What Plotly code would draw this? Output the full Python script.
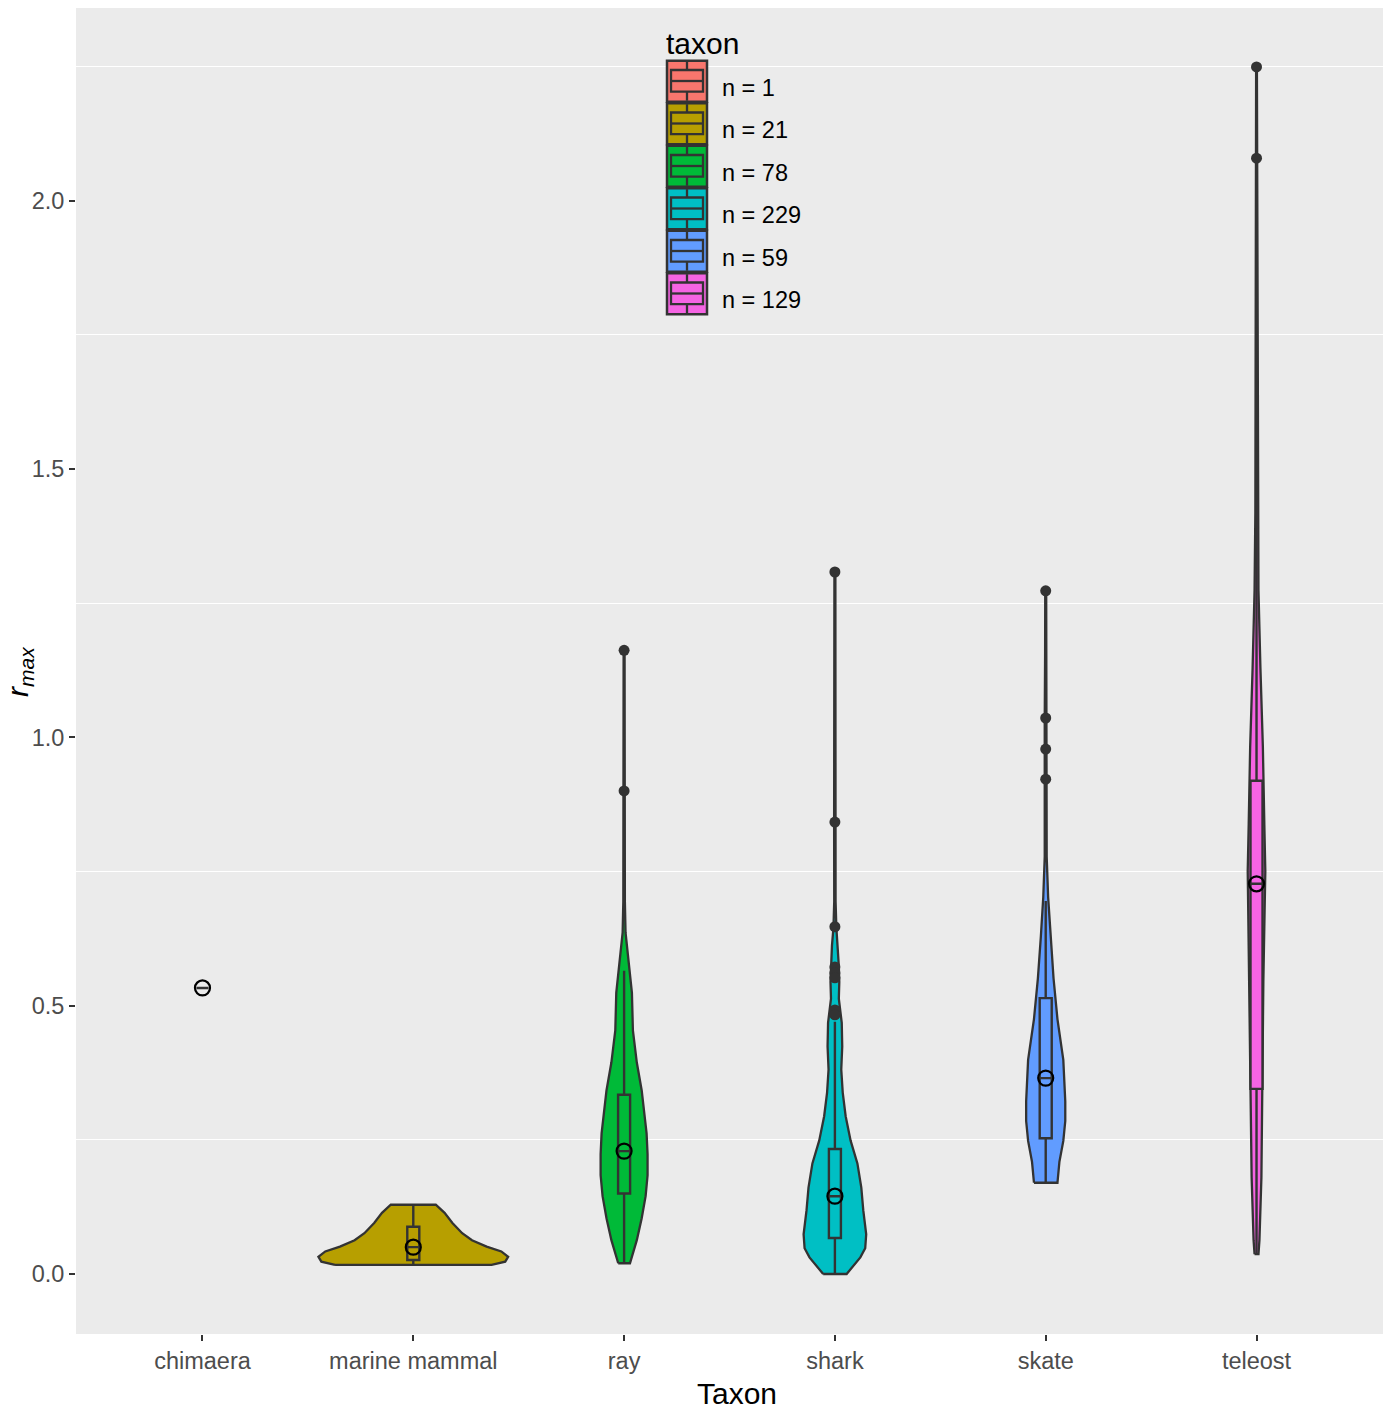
import plotly.graph_objects as go

# ---------------- data ----------------
categories = ["chimaera", "marine mammal", "ray", "shark", "skate", "teleost"]
counts = [1, 21, 78, 229, 59, 129]
colors = ["#F8766D", "#B79F00", "#00BA38", "#00BFC4", "#619CFF", "#F564E3"]

# violin density profiles (r_max level, relative density)
chimaera_y = [0.533]
chimaera_dens = [0.0]
mm_y = [0.017, 0.023, 0.032, 0.042, 0.051, 0.063, 0.076, 0.095, 0.114, 0.129]
mm_dens = [80, 94, 97, 90, 75, 60, 50, 40, 32, 23]
ray_y = [0.020, 0.063, 0.104, 0.145, 0.184, 0.223, 0.262, 0.342, 0.394, 0.454,
         0.524, 0.580, 0.612, 0.636, 0.694, 0.794, 0.900, 1.034, 1.162]
ray_dens = [6, 13, 18, 22, 24, 24, 23, 18, 13, 9, 8, 5, 3, 1.5, 0.8, 0.6, 0.8, 0.4, 0.5]
shark_y = [0.000, 0.031, 0.048, 0.074, 0.119, 0.161, 0.206, 0.249, 0.294, 0.338, 0.381,
           0.424, 0.468, 0.513, 0.544, 0.574, 0.612, 0.645, 0.694, 0.840, 1.064, 1.307]
shark_dens = [12, 26, 31, 32, 29, 27, 23, 16, 11, 8, 6.5, 7.5, 7, 4, 4.5, 4, 3, 1.5, 0.7, 0.8, 0.4, 0.5]
skate_y = [0.170, 0.209, 0.248, 0.285, 0.322, 0.399, 0.475, 0.551, 0.628, 0.702, 0.778,
           0.920, 0.977, 1.035, 1.160, 1.272]
skate_dens = [12, 14, 18, 20, 20, 18, 12, 8, 5, 2.5, 1, 1.2, 1.2, 1, 0.6, 0.5]
teleost_y = [0.037, 0.063, 0.180, 0.325, 0.545, 0.751, 0.837, 0.982, 1.129, 1.274,
             1.419, 1.711, 2.003, 2.076, 2.245]
teleost_dens = [2, 3, 5, 6, 7, 9, 8, 6.5, 4, 2, 1.2, 0.8, 0.6, 0.6, 0.4]

violin_y = [chimaera_y, mm_y, ray_y, shark_y, skate_y, teleost_y]
violin_dens = [chimaera_dens, mm_dens, ray_dens, shark_dens, skate_dens, teleost_dens]

# box plot statistics
q1 = [0.533, 0.026, 0.150, 0.067, 0.253, 0.345]
median = [0.533, 0.050, 0.229, 0.145, 0.365, 0.727]
q3 = [0.533, 0.088, 0.334, 0.233, 0.514, 0.919]
lower_whisker = [0.533, 0.017, 0.020, 0.000, 0.170, 0.037]
upper_whisker = [0.533, 0.129, 0.565, 0.470, 0.695, 1.720]

# outliers
outlier_taxon = ["ray", "ray",
                 "shark", "shark", "shark", "shark", "shark", "shark", "shark", "shark",
                 "skate", "skate", "skate", "skate",
                 "teleost", "teleost"]
outlier_value = [1.162, 0.900,
                 1.308, 0.842, 0.647, 0.572, 0.561, 0.552, 0.492, 0.483,
                 1.273, 1.036, 0.978, 0.922,
                 2.249, 2.079]

# ---------------- styling ----------------
FONT = "Liberation Sans, Arial, Helvetica, sans-serif"
DARK = "#333333"
PANEL = "#EBEBEB"
VIOLIN_MAX_HALF = 0.45
dens_max = max(max(d) for d in violin_dens)
pos = list(range(1, len(categories) + 1))
X_RANGE = [0.4, 6.6]
Y_RANGE = [-0.1118, 2.3589]

fig = go.Figure()

# violins (main axes)
for i, (ys, ds) in enumerate(zip(violin_y, violin_dens)):
    if len(ys) < 2:
        continue
    half = [d / dens_max * VIOLIN_MAX_HALF for d in ds]
    xs = [pos[i] - h for h in half] + [pos[i] + h for h in reversed(half)]
    yy = list(ys) + list(reversed(ys))
    xs.append(xs[0])
    yy.append(yy[0])
    fig.add_trace(go.Scatter(
        x=xs, y=yy, mode="lines", fill="toself", fillcolor=colors[i],
        line=dict(color=DARK, width=2.3), showlegend=False, hoverinfo="skip"))

# boxes (overlay axes so they sit on top of the violins)
for i in range(len(categories)):
    fig.add_trace(go.Box(
        x=[pos[i]], q1=[q1[i]], median=[median[i]], q3=[q3[i]],
        lowerfence=[lower_whisker[i]], upperfence=[upper_whisker[i]],
        width=0.057, whiskerwidth=0, fillcolor=colors[i],
        line=dict(color=DARK, width=2.4), boxpoints=False, showlegend=False,
        xaxis="x2", yaxis="y2"))

# outliers
cat_pos = {c: p for c, p in zip(categories, pos)}
fig.add_trace(go.Scatter(
    x=[cat_pos[t] for t in outlier_taxon], y=outlier_value, mode="markers",
    marker=dict(color=DARK, size=11), showlegend=False, xaxis="x2", yaxis="y2"))

# median circles
fig.add_trace(go.Scatter(
    x=pos, y=median, mode="markers",
    marker=dict(symbol="circle-open", color="black", size=15, line=dict(width=2.2)),
    showlegend=False, xaxis="x2", yaxis="y2"))

# ---------------- layout ----------------
W, H = 1389, 1412
L, R, T, B = 76, 1383, 8, 1334


def px(x):
    return (x - L) / (R - L)


def py(y):
    return (B - y) / (B - T)


shapes = []
annotations = []

# legend (drawn manually to mimic ggplot keys)
key_top0 = 60.7
key_step = 42.5
for i, (c, n) in enumerate(zip(colors, counts)):
    top = key_top0 + key_step * i
    bot = top + 41
    shapes.append(dict(type="rect", xref="paper", yref="paper",
                       x0=px(667), x1=px(707), y0=py(bot), y1=py(top),
                       fillcolor=c, line=dict(color=DARK, width=2.5), layer="above"))
    shapes.append(dict(type="rect", xref="paper", yref="paper",
                       x0=px(671), x1=px(703), y0=py(top + 31), y1=py(top + 9.3),
                       fillcolor=c, line=dict(color=DARK, width=2.3), layer="above"))
    shapes.append(dict(type="line", xref="paper", yref="paper",
                       x0=px(671), x1=px(703), y0=py(top + 20.3), y1=py(top + 20.3),
                       line=dict(color=DARK, width=2.3), layer="above"))
    shapes.append(dict(type="line", xref="paper", yref="paper",
                       x0=px(687), x1=px(687), y0=py(top + 1), y1=py(top + 9.3),
                       line=dict(color=DARK, width=2.3), layer="above"))
    shapes.append(dict(type="line", xref="paper", yref="paper",
                       x0=px(687), x1=px(687), y0=py(top + 31), y1=py(bot - 1),
                       line=dict(color=DARK, width=2.3), layer="above"))
    annotations.append(dict(xref="paper", yref="paper", x=px(720), y=py(top + 27),
                            text=f"n = {n}", showarrow=False, xanchor="left",
                            yanchor="middle", font=dict(family=FONT, size=23.5, color="black")))

annotations.append(dict(xref="paper", yref="paper", x=px(664), y=py(43),
                        text="taxon", showarrow=False, xanchor="left", yanchor="middle",
                        font=dict(family=FONT, size=30, color="black")))

# axis titles
annotations.append(dict(xref="paper", yref="paper", x=px(737), y=py(1393),
                        text="Taxon", showarrow=False, xanchor="center", yanchor="middle",
                        font=dict(family=FONT, size=30, color="black")))
annotations.append(dict(xref="paper", yref="paper", x=px(19), y=py(672),
                        text="<i>r</i><sub><i>max</i></sub>", showarrow=False,
                        textangle=-90, xanchor="center", yanchor="middle",
                        font=dict(family=FONT, size=30, color="black")))

y_tick_vals = [0.0, 0.5, 1.0, 1.5, 2.0]
y_tick_text = ["0.0", "0.5", "1.0", "1.5", "2.0"]

fig.update_layout(
    width=W, height=H,
    margin=dict(l=L, r=W - R, t=T, b=H - B, autoexpand=False),
    paper_bgcolor="white", plot_bgcolor=PANEL,
    boxmode="overlay",
    showlegend=False,
    shapes=shapes, annotations=annotations,
    xaxis=dict(range=X_RANGE, tickmode="array", tickvals=pos, ticktext=categories,
               showgrid=False, zeroline=False, showline=False,
               ticks="outside", ticklen=6, tickwidth=2.2, tickcolor=DARK,
               tickfont=dict(family=FONT, size=23.5, color="#4D4D4D")),
    yaxis=dict(range=Y_RANGE, tickmode="array", tickvals=y_tick_vals,
               ticktext=y_tick_text, showgrid=False, zeroline=False, showline=False,
               ticks="outside", ticklen=6, tickwidth=2.2, tickcolor=DARK,
               tickfont=dict(family=FONT, size=23.5, color="#4D4D4D"),
               minor=dict(tick0=0.25, dtick=0.5, showgrid=True, gridcolor="white",
                          gridwidth=1.2, ticks="")),
    xaxis2=dict(range=X_RANGE, overlaying="x", anchor="y2", visible=False),
    yaxis2=dict(range=Y_RANGE, overlaying="y", anchor="x2", visible=False),
)

fig.write_html("out.html", config={"displayModeBar": False},
               post_script="document.body.style.margin='0px';")
